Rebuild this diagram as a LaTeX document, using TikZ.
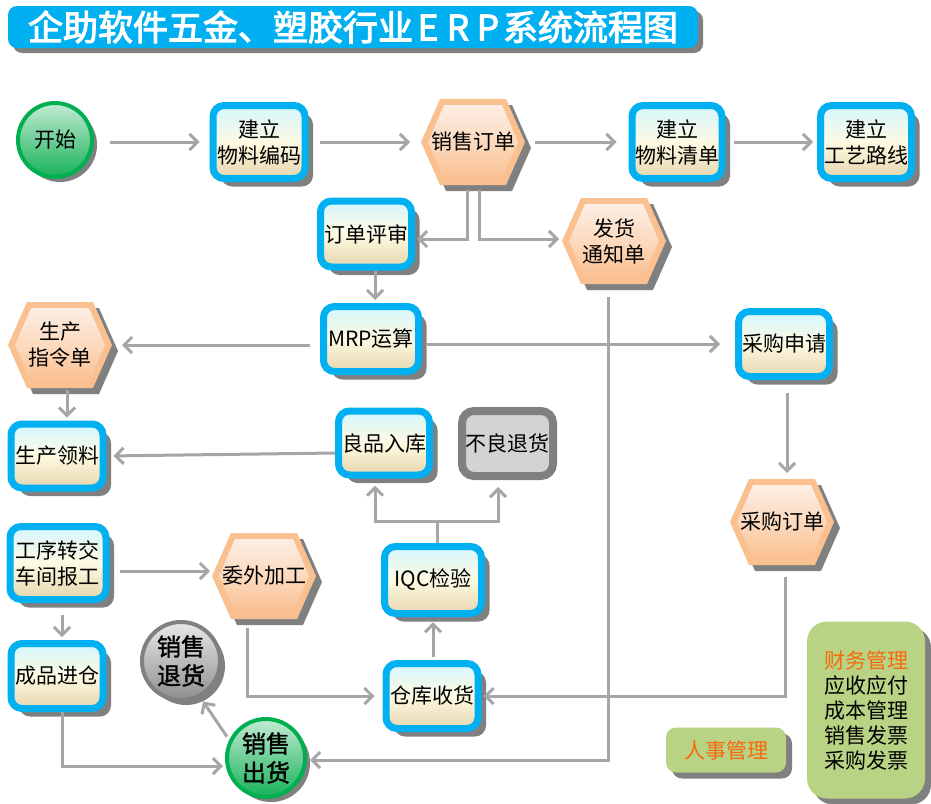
\documentclass[tikz,border=0pt]{standalone}
\usepackage{fontspec}
\setmainfont{Noto Sans CJK SC}
\newfontfamily\titlefont{Noto Sans CJK SC}[FakeBold=3]
\newfontfamily\boldfont{Noto Sans CJK SC}[FakeBold=1.5]
\usetikzlibrary{arrows.meta,shadows}
\definecolor{boxblue}{HTML}{00B0F0}
\definecolor{boxtop}{HTML}{D4F6FE}
\definecolor{boxmid}{HTML}{FEFAE2}
\definecolor{boxbot}{HTML}{E5D6AE}
\definecolor{shadowc}{HTML}{808080}
\definecolor{conngray}{HTML}{A6A6A6}
\definecolor{hexorange}{HTML}{FAC090}
\definecolor{hextop}{HTML}{FDEEE4}
\definecolor{ringgreen}{HTML}{00B050}
\definecolor{greentop}{HTML}{C2EBD2}
\definecolor{greenbot}{HTML}{17B25A}
\definecolor{graytop}{HTML}{E8E8E8}
\definecolor{graybot}{HTML}{8E8E8E}
\definecolor{badfill}{HTML}{D3D3D3}
\definecolor{olivec}{HTML}{B8D383}
\definecolor{orangetext}{HTML}{F9690E}

\newcommand\hexnode[4]{%
  \fill[shadowc,shift={(#2+6,#3+6)}] (-52,0) -- (-33,-43) -- (33,-43) -- (52,0) -- (33,43) -- (-33,43) -- cycle;
  \fill[hexorange,shift={(#2,#3)}] (-52,0) -- (-33,-43) -- (33,-43) -- (52,0) -- (33,43) -- (-33,43) -- cycle;
  \shade[top color=hextop,bottom color=hexorange,middle color=hexorange!45!hextop,shift={(#2,#3)}] (-45,0) -- (-29,-37) -- (29,-37) -- (45,0) -- (29,37) -- (-29,37) -- cycle;
  \node[hexlabel] (#1) at (#2,#3) {#4};
}

\begin{document}
\begin{tikzpicture}[x=1pt,y=-1pt,
  boxshadow/.style={general shadow={shadow xshift=8pt,shadow yshift=-8pt,fill=shadowc}},
  bluebox/.style={draw=boxblue,line width=7pt,rounded corners=11pt,
     top color=boxtop,bottom color=boxbot,middle color=boxmid,
     align=center,inner sep=0pt,font=\fontsize{21}{26}\selectfont,boxshadow},
  hexlabel/.style={draw=none,minimum width=104pt,minimum height=86pt,inner sep=0pt,outer sep=0pt,
     align=center,font=\fontsize{21}{26}\selectfont},
  greencircle/.style={circle,draw=ringgreen,line width=4pt,top color=greentop,bottom color=greenbot,
     inner sep=0pt,align=center,general shadow={shadow xshift=5pt,shadow yshift=-5pt,fill=shadowc}},
  graycircle/.style={circle,draw=shadowc,line width=4pt,top color=graytop,bottom color=graybot,
     inner sep=0pt,align=center,general shadow={shadow xshift=5pt,shadow yshift=-5pt,fill=shadowc}},
  badbox/.style={draw=shadowc,line width=8pt,rounded corners=12pt,fill=badfill,
     align=center,inner sep=0pt,font=\fontsize{21}{26}\selectfont},
  olivebox/.style={fill=olivec,inner sep=0pt,font=\fontsize{21}{25}\selectfont,
     general shadow={shadow xshift=6pt,shadow yshift=-6pt,fill=shadowc}},
  titlebar/.style={fill=boxblue,rounded corners=9pt,minimum width=690pt,minimum height=42pt,inner sep=0pt,
     text=white,font=\titlefont\fontsize{35}{35}\selectfont,
     general shadow={shadow xshift=5pt,shadow yshift=-5pt,fill=shadowc}},
  conn/.style={draw=conngray,line width=3pt,-{Straight Barb[length=8pt,width=16pt]}},
]
\useasboundingbox (0,0) rectangle (931,803);
\fill[white] (0,0) rectangle (931,803);

% title
\node[titlebar] (title) at (353,27) {企助软件五金、塑胶行业\makebox[30pt]{E}\makebox[30pt]{R}\makebox[30pt]{P}系统流程图};

% circles
\node[greencircle,minimum size=74pt,font=\fontsize{21}{21}\selectfont] (start) at (55,140) {开始};
\node[greencircle,minimum size=78pt,font=\boldfont\fontsize{24}{29}\selectfont] (sale) at (266,758) {销售\\出货};
\node[graycircle,minimum size=78pt,font=\boldfont\fontsize{24}{29}\selectfont] (ret) at (181,661) {销售\\退货};

% blue boxes
\node[bluebox,minimum width=92pt,minimum height=73pt] (code) at (259,142) {建立\\物料编码};
\node[bluebox,minimum width=90pt,minimum height=73pt] (bom) at (677,142) {建立\\物料清单};
\node[bluebox,minimum width=91pt,minimum height=73pt] (route) at (866,142) {建立\\工艺路线};
\node[bluebox,minimum width=91pt,minimum height=66pt] (review) at (366,234) {订单评审};
\node[bluebox,minimum width=95pt,minimum height=65pt] (mrp) at (371,339) {MRP运算};
\node[bluebox,minimum width=92pt,minimum height=64pt] (pick) at (57,456) {生产领料};
\node[bluebox,minimum width=91pt,minimum height=64pt] (good) at (384,443) {良品入库};
\node[bluebox,minimum width=91pt,minimum height=65pt] (pr) at (784,344) {采购申请};
\node[bluebox,minimum width=96pt,minimum height=73pt] (proc) at (58,563) {工序转交\\车间报工};
\node[bluebox,minimum width=92pt,minimum height=65pt] (fin) at (57,676) {成品进仓};
\node[bluebox,minimum width=97pt,minimum height=67pt] (iqc) at (433,580) {IQC检验};
\node[bluebox,minimum width=92pt,minimum height=65pt] (wh) at (432,696) {仓库收货};
\node[badbox,minimum width=91pt,minimum height=65pt] (bad) at (507.5,443.5) {不良退货};

% hexagons
\hexnode{so}{473}{142}{销售订单}
\hexnode{ship}{614}{241}{发货\\通知单}
\hexnode{order}{60}{345}{生产\\指令单}
\hexnode{po}{782}{522}{采购订单}
\hexnode{out}{264}{576}{委外加工}

% olive boxes
\node[olivebox,rounded corners=10pt,minimum width=120pt,minimum height=45pt,text=orangetext] (hr) at (726,750) {人事管理};
\node[olivebox,rounded corners=20pt,minimum width=118pt,minimum height=177pt,align=left] (acct) at (866,710)
  {\textcolor{orangetext}{财务管理}\\应收应付\\成本管理\\销售发票\\采购发票};

% connectors
\draw[conn,shorten <=16pt,shorten >=10pt] (start.east |- code.west) -- (code.west);
\draw[conn,shorten <=11pt,shorten >=11pt] (code.east) -- (code.east -| so.west);
\draw[conn,shorten <=10pt,shorten >=12pt] (so.east) -- (so.east -| bom.west);
\draw[conn,shorten <=8pt,shorten >=4pt] (bom.east) -- (bom.east -| route.west);
\draw[conn,shorten <=5pt,shorten >=2pt] ([xshift=-6pt]so.south) |- ([yshift=-5pt]review.east);
\draw[conn,shorten <=5pt,shorten >=3pt] ([xshift=6pt]so.south) |- ([yshift=2pt]ship.west);
\draw[conn,shorten >=3pt] ([xshift=9pt]review.south) -- ([xshift=9pt]review.south |- mrp.north);
\draw[conn,shorten <=10pt,shorten >=10pt] (mrp.west |- order.east) -- (order.east);
\draw[conn,shorten <=5pt,shorten >=15pt] (mrp.east |- pr.west) -- (pr.west);
\draw[conn,shorten <=2pt,shorten >=3pt] ([xshift=7pt]order.south) -- ([xshift=7pt]order.south |- pick.north);
\draw[conn,shorten >=7pt] ([yshift=-10pt]good.west) -- (pick.east);
\draw[conn,shorten <=13pt,shorten >=6pt] ([xshift=3pt]pr.south) -- ([xshift=3pt]pr.south |- po.north);
\draw[conn,shorten <=12pt,shorten >=2pt] ([xshift=3pt]po.south) |- (wh.east);
\coordinate (jn) at (437,521);
\draw[conn,shorten >=7pt] ([xshift=4pt]iqc.north) |- ([xshift=-9pt]good.south |- jn) -- ([xshift=-9pt]good.south);
\draw[conn,shorten >=7pt] ([xshift=4pt]iqc.north) |- ([xshift=-9.5pt]bad.south |- jn) -- ([xshift=-9.5pt]bad.south);
\draw[conn,shorten <=3pt,shorten >=5pt] ([xshift=1pt]wh.north) -- ([xshift=1pt]wh.north |- iqc.south);
\draw[conn,shorten <=10pt,shorten >=2pt] ([yshift=-8pt]proc.east) -- ([yshift=-8pt]proc.east -| out.west);
\draw[conn,shorten <=12pt,shorten >=3pt] ([xshift=4pt]proc.south) -- ([xshift=4pt]proc.south |- fin.north);
\draw[conn,shorten <=9pt,shorten >=8pt] ([xshift=-17pt]out.south) |- (wh.west);
\draw[conn,shorten >=2pt] ([xshift=5pt]fin.south) |- ([yshift=-8pt]sale.west);
\draw[conn,shorten <=4pt,shorten >=5pt] (sale.154) -- (ret.-62);
\draw[conn,shorten <=13pt,shorten >=3pt] ([xshift=-6pt]ship.south) |- ([yshift=-2pt]sale.east);
\end{tikzpicture}
\end{document}
